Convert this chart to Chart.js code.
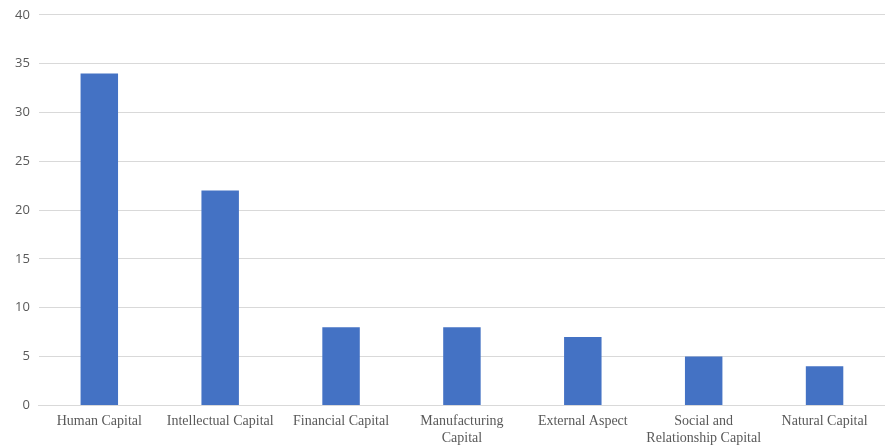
<!DOCTYPE html>
<html>
<head>
<meta charset="utf-8">
<script src="https://cdn.jsdelivr.net/npm/chart.js@4.4.0/dist/chart.umd.min.js"></script>
<style>
  html, body { margin: 0; padding: 0; background: #fff; }
  #wrap { width: 885px; height: 446px; }
</style>
</head>
<body>
<div id="wrap"><canvas id="chart"></canvas></div>
<script>
const categories = [
  "Human Capital",
  "Intellectual Capital",
  "Financial Capital",
  ["Manufacturing", "Capital"],
  "External Aspect",
  ["Social and", "Relationship Capital"],
  "Natural Capital",
];
const counts = [34, 22, 8, 8, 7, 5, 4];

const ctx = document.getElementById("chart").getContext("2d");
new Chart(ctx, {
  type: "bar",
  data: {
    labels: categories,
    datasets: [
      {
        data: counts,
        backgroundColor: "#4472C4",
        barPercentage: 0.31,
        categoryPercentage: 1,
      },
    ],
  },
  options: {
    responsive: true,
    maintainAspectRatio: false,
    animation: false,
    layout: { padding: { top: 0, right: 0, left: 6, bottom: -9 } },
    plugins: { legend: { display: false }, tooltip: { enabled: false } },
    scales: {
      x: {
        grid: { display: false, drawTicks: false },
        border: { color: "#d9d9d9", width: 1 },
        ticks: {
          color: "#595959",
          font: { family: "'Liberation Serif', 'Times New Roman', serif", size: 14, lineHeight: 1.2 },
          maxRotation: 0,
          autoSkip: false,
          padding: 8,
        },
      },
      y: {
        min: 0,
        max: 40,
        ticks: {
          stepSize: 5,
          color: "#595959",
          font: { family: "'Open Sans', 'Liberation Sans', sans-serif", size: 13, lineHeight: 0.9 },
          padding: 9,
        },
        grid: { color: "#d9d9d9", drawTicks: false },
        border: { display: false },
      },
    },
  },
});
</script>
</body>
</html>
